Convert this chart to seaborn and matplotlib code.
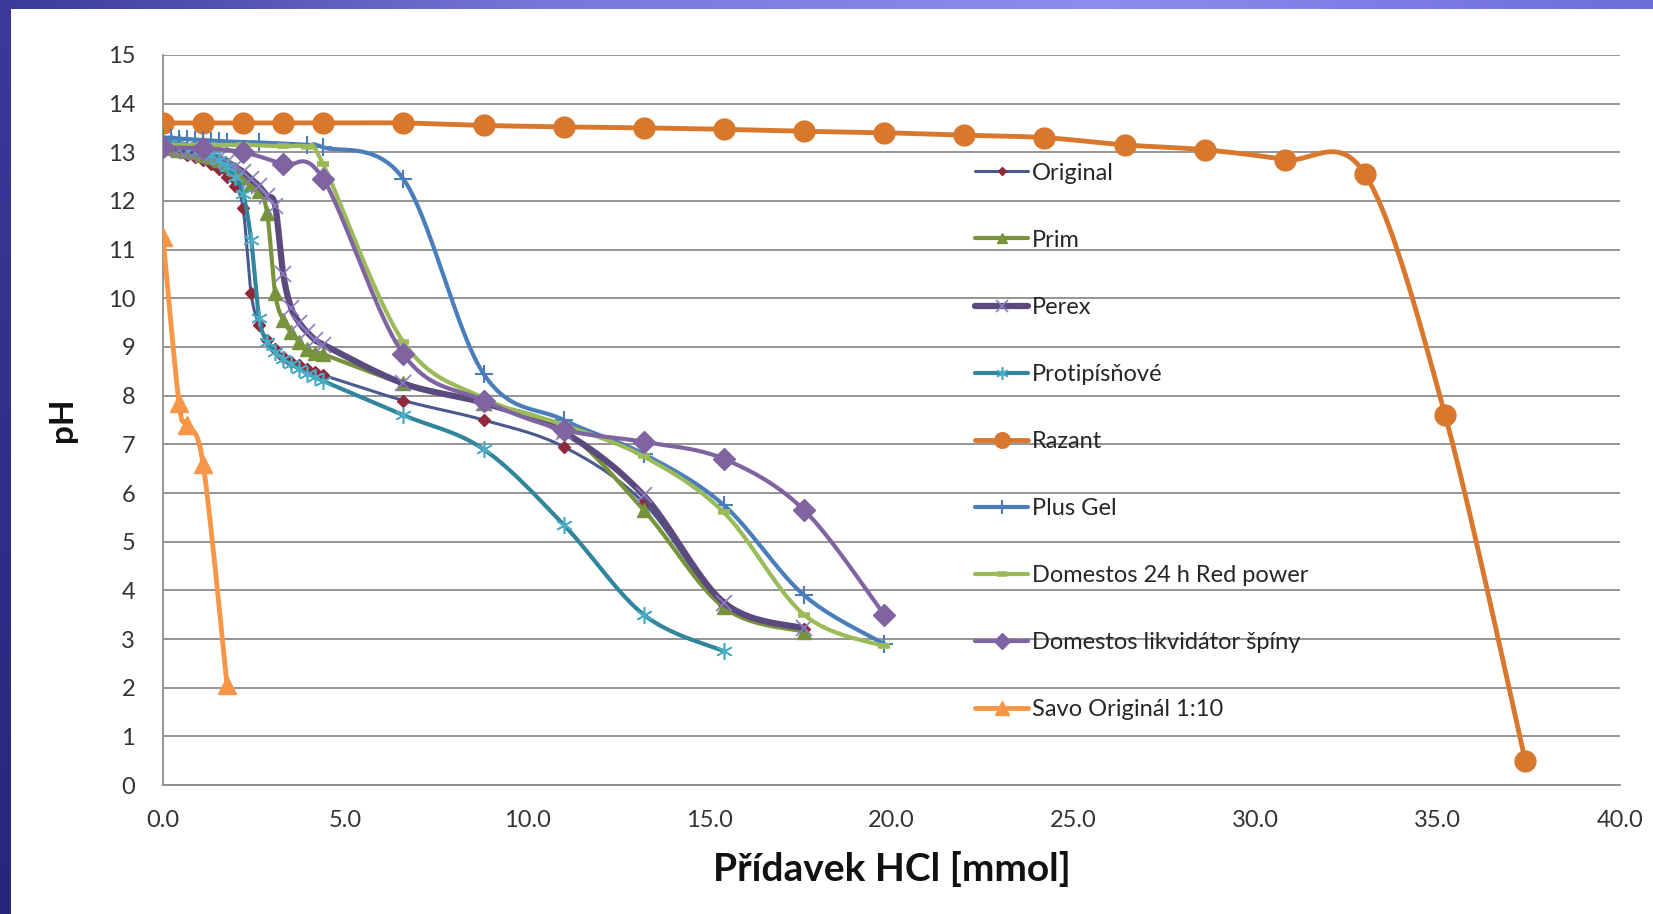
import numpy as np
import pandas as pd
import seaborn as sns
import matplotlib.pyplot as plt
from matplotlib.lines import Line2D

# Titrace čisticích prostředků kyselinou HCl
x_fine = [0.0, 0.22, 0.44, 0.66, 0.88, 1.1, 1.32, 1.54, 1.76, 1.98, 2.2,
          2.42, 2.64, 2.86, 3.08, 3.3, 3.52, 3.74, 3.96, 4.18, 4.4]

original_x = x_fine + [6.6, 8.8, 11.0, 13.2, 15.4, 17.6]
original_y = [13.1, 13.05, 13.0, 12.95, 12.9, 12.85, 12.75, 12.65, 12.5, 12.3, 11.85,
              10.1, 9.45, 9.15, 8.95, 8.8, 8.7, 8.62, 8.55, 8.48, 8.42,
              7.9, 7.5, 6.95, 5.8, 3.7, 3.2]

prim_x = x_fine + [6.6, 8.8, 11.0, 13.2, 15.4, 17.6]
prim_y = [13.1, 13.08, 13.05, 13.02, 13.0, 12.95, 12.9, 12.85, 12.75, 12.65, 12.5,
          12.35, 12.2, 11.75, 10.1, 9.55, 9.3, 9.1, 8.95, 8.88, 8.85,
          8.25, 7.85, 7.3, 5.65, 3.65, 3.15]

perex_x = x_fine + [6.6, 8.8, 11.0, 13.2, 15.4, 17.6]
perex_y = [13.1, 13.08, 13.05, 13.03, 13.0, 12.97, 12.93, 12.88, 12.8, 12.7, 12.6,
           12.45, 12.3, 12.1, 11.9, 10.5, 9.8, 9.5, 9.3, 9.15, 9.05,
           8.25, 7.85, 7.25, 5.95, 3.75, 3.22]

protip_x = x_fine + [6.6, 8.8, 11.0, 13.2, 15.4]
protip_y = [13.25, 13.22, 13.2, 13.15, 13.1, 13.05, 12.95, 12.85, 12.7, 12.5, 12.15,
            11.2, 9.6, 9.1, 8.9, 8.75, 8.65, 8.55, 8.45, 8.38, 8.3,
            7.6, 6.9, 5.35, 3.5, 2.75]

razant_x = [0.0, 1.1, 2.2, 3.3, 4.4, 6.6, 8.8, 11.0, 13.2, 15.4, 17.6, 19.8,
            22.0, 24.2, 26.4, 28.6, 30.8, 33.0, 35.2, 37.4]
razant_y = [13.6, 13.6, 13.6, 13.6, 13.6, 13.6, 13.55, 13.52, 13.5, 13.47, 13.43, 13.4,
            13.35, 13.3, 13.15, 13.05, 12.85, 12.55, 7.6, 0.5]

plusgel_x = [0.0, 0.22, 0.44, 0.66, 0.88, 1.1, 1.32, 1.54, 1.76, 2.64, 3.96, 4.4,
             6.6, 8.8, 11.0, 13.2, 15.4, 17.6, 19.8]
plusgel_y = [13.3, 13.3, 13.28, 13.27, 13.26, 13.25, 13.24, 13.23, 13.22, 13.2, 13.15, 13.1,
             12.45, 8.45, 7.5, 6.8, 5.75, 3.9, 2.9]

red_x = [0.0, 1.1, 2.2, 3.3, 3.96, 4.4, 6.6, 8.8, 11.0, 13.2, 15.4, 17.6, 19.8]
red_y = [13.15, 13.15, 13.15, 13.12, 13.1, 12.75, 9.1, 7.95, 7.4, 6.75, 5.6, 3.5, 2.85]

likv_x = [0.0, 1.1, 2.2, 3.3, 4.4, 6.6, 8.8, 11.0, 13.2, 15.4, 17.6, 19.8]
likv_y = [13.1, 13.08, 13.0, 12.75, 12.45, 8.85, 7.9, 7.3, 7.05, 6.7, 5.65, 3.5]

savo_x = [0.0, 0.44, 0.66, 1.1, 1.76]
savo_y = [11.25, 7.85, 7.4, 6.6, 2.05]

labels = ["Original", "Prim", "Perex", "Protipísňové", "Razant", "Plus Gel",
          "Domestos 24 h Red power", "Domestos likvidátor špíny", "Savo Originál 1:10"]
series_x = [original_x, prim_x, perex_x, protip_x, razant_x, plusgel_x, red_x, likv_x, savo_x]
series_y = [original_y, prim_y, perex_y, protip_y, razant_y, plusgel_y, red_y, likv_y, savo_y]

# styl: barva čáry, tloušťka, marker, barva markeru, velikost, šířka hrany
styles = [
    ("#4A5A8E", 2.2, "D", "#8E2A3C", 6, 1),
    ("#77933C", 3.0, "^", "#77933C", 10, 1),
    ("#5B4A7E", 4.5, "x", "#8E7CC3", 11, 1.2),
    ("#31859C", 3.0, (6, 2, 0), "#4BACC6", 12, 1.2),
    ("#D9782D", 3.5, "o", "#D9782D", 15, 1),
    ("#4A7EBB", 3.0, "+", "#4A7EBB", 13, 1.5),
    ("#9BBB59", 3.0, "_", "#9BBB59", 9, 4),
    ("#8064A2", 3.0, "D", "#8064A2", 11, 1),
    ("#F79646", 3.5, "^", "#F79646", 13, 1),
]


def smooth(xs, ys, n=24):
    # vyhlazení jako v Excelu (Catmull-Rom / Bezier)
    p = np.column_stack([xs, ys]).astype(float)
    p = np.vstack([p[0], p, p[-1]])
    t = np.linspace(0, 1, n, endpoint=False)[:, None]
    segs = []
    for i in range(1, len(p) - 2):
        a, b = p[i], p[i + 1]
        c1 = a + (p[i + 1] - p[i - 1]) / 6
        c2 = b - (p[i + 2] - p[i]) / 6
        segs.append((1 - t) ** 3 * a + 3 * (1 - t) ** 2 * t * c1
                    + 3 * (1 - t) * t ** 2 * c2 + t ** 3 * b)
    segs.append(p[-1][None, :])
    out = np.vstack(segs)
    return out[:, 0], out[:, 1]


sns.set_theme(style="white")
plt.rcParams["font.family"] = ["Lato", "DejaVu Sans"]

fig = plt.figure(figsize=(16.53, 9.14), dpi=100)
fig.patch.set_facecolor("white")

# modrý rámeček snímku
band = fig.add_axes([0, 1 - 9 / 914, 1, 9 / 914])
grad = np.linspace(0, 1, 256)[None, :]
band.imshow(grad, aspect="auto", cmap=plt.matplotlib.colors.LinearSegmentedColormap.from_list(
    "b", ["#3A3A9A", "#7878DA", "#8C8CF2", "#6E6ED8"]), extent=[0, 1, 0, 1])
band.axis("off")
left = fig.add_axes([0, 0, 11 / 1653, 1])
left.imshow(np.linspace(0, 1, 256)[:, None], aspect="auto",
            cmap=plt.matplotlib.colors.LinearSegmentedColormap.from_list("l", ["#3A3A9A", "#26267A"]),
            extent=[0, 1, 0, 1])
left.axis("off")

ax = fig.add_axes([0.0986, 0.141, 0.8814, 0.799])

handles = []
for i, (xs, ys) in enumerate(zip(series_x, series_y)):
    lc, lw, mk, mc, ms, mew = styles[i]
    sx, sy = smooth(xs, ys)
    df = pd.DataFrame({"x": sx, "y": sy})
    sns.lineplot(data=df, x="x", y="y", sort=False, estimator=None, color=lc, lw=lw,
                 ax=ax, zorder=3 + i)
    ax.plot(xs, ys, linestyle="none", marker=mk, markersize=ms, color=mc,
            markeredgecolor=mc, markeredgewidth=mew, zorder=3 + i)
    handles.append(Line2D([], [], color=lc, lw=lw, marker=mk, markersize=ms * 0.75,
                          markerfacecolor=mc, markeredgecolor=mc, markeredgewidth=mew))

ax.set_xlim(0, 40)
ax.set_ylim(0, 15)
ax.set_xticks(np.arange(0, 41, 5))
ax.set_xticklabels([f"{v:.1f}" for v in np.arange(0, 41, 5)])
ax.set_yticks(np.arange(0, 16, 1))
ax.tick_params(axis="both", length=0, labelsize=17, labelcolor="#333333")
ax.tick_params(axis="y", pad=20)
ax.tick_params(axis="x", pad=18)
ax.yaxis.grid(True, color="#8C8C8C", lw=1.3)
ax.xaxis.grid(False)
for s in ["top", "right"]:
    ax.spines[s].set_visible(False)
for s in ["left", "bottom"]:
    ax.spines[s].set_color("#8C8C8C")
    ax.spines[s].set_linewidth(1.3)

ax.set_xlabel("Přídavek HCl [mmol]", fontsize=28, fontweight="bold", color="#111111", labelpad=14)
ax.set_ylabel("pH", fontsize=24, fontweight="bold", color="#111111", labelpad=22)

fig.legend(handles, labels, loc="upper left", bbox_to_anchor=(0.59, 0.822), frameon=False,
           fontsize=17, labelspacing=1.95, handlelength=2.25, handletextpad=0.15,
           borderpad=0, borderaxespad=0, labelcolor="#262626")

fig.savefig("out.png", dpi=100)
